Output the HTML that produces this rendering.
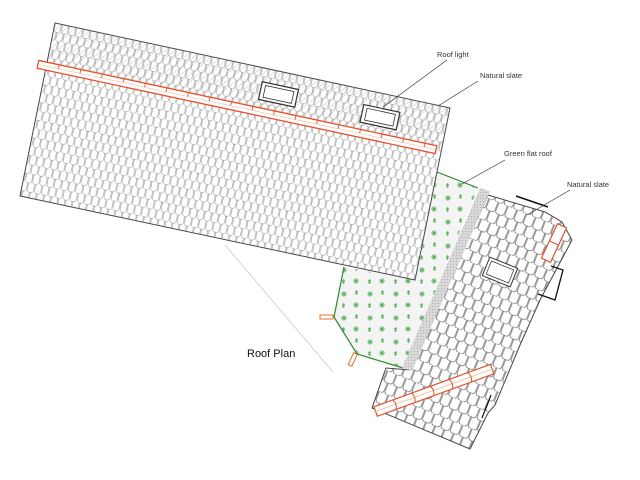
<!DOCTYPE html>
<html><head><meta charset="utf-8"><style>
html,body{margin:0;padding:0;background:#fff;width:640px;height:480px;overflow:hidden}
svg{display:block}
text{font-family:"Liberation Sans",sans-serif;fill:#333}
</style></head><body>
<svg width="640" height="480" viewBox="0 0 640 480">
<defs>
<pattern id="tiles" patternUnits="userSpaceOnUse" width="14.6" height="18" patternTransform="rotate(12.1 55 23) translate(55 23)">
<path d="M0.5,0 v6 q0,3 3,3 q3.3,0 3.3,-3 v-6 M7.8,0 v6 q0,3 3,3 q3.3,0 3.3,-3 v-6 M4.1,9 v6 q0,3 3,3 q3.3,0 3.3,-3 v-6 M-3.2,9 v6 q0,3 3,3 q3.3,0 3.3,-3 v-6 M11.4,9 v6 q0,3 3,3 q3.3,0 3.3,-3 v-6" fill="none" stroke="#777" stroke-width="0.45"/>
</pattern>
<pattern id="hatch" patternUnits="userSpaceOnUse" width="7.3" height="9" patternTransform="rotate(12.1 55 23) translate(55 23)">
<line x1="0" y1="9" x2="7.3" y2="0" stroke="#999" stroke-width="0.4"/>
</pattern>
<pattern id="wtiles" patternUnits="userSpaceOnUse" width="20" height="22" patternTransform="rotate(22 480 195) translate(480 195)">
<path d="M0.5,0 v8 q0,3 3,3 h3 q3,0 3,-3 v-8 M10.5,0 v8 q0,3 3,3 h3 q3,0 3,-3 v-8 M5.5,11 v8 q0,3 3,3 h3 q3,0 3,-3 v-8 M-4.5,11 v8 q0,3 3,3 h3 q3,0 3,-3 v-8 M15.5,11 v8 q0,3 3,3 h3 q3,0 3,-3 v-8" fill="none" stroke="#555" stroke-width="0.6"/>
</pattern>
<pattern id="plants" patternUnits="userSpaceOnUse" width="26" height="24">
<g stroke="#4aa84a" stroke-width="0.7">
<path d="M4,4 l4,4 M8,4 l-4,4 M6,3 v6 M3,6 h6"/>
<path d="M16,15 l4,4 M20,15 l-4,4 M18,14 v6 M15,17 h6"/>
<path d="M17,3 l3,3 M20,3 l-3,3 M18.5,2 v5"/>
<path d="M4,16 l3,3 M7,16 l-3,3 M5.5,15 v5"/>
</g>
</pattern>
<pattern id="grit" patternUnits="userSpaceOnUse" width="3" height="3">
<rect width="3" height="3" fill="#d8d8d8"/><rect width="1" height="1" fill="#b0b0b0"/>
</pattern>
</defs>

<line x1="225" y1="245" x2="333" y2="372" stroke="#ccc" stroke-width="0.8"/>

<!-- green flat roof -->
<polygon points="437,172 478,188 403,368 357,354 334,317 344,267 415,280" fill="#f3f4f3"/>
<polygon points="437,172 478,188 403,368 357,354 334,317 344,267 415,280" fill="url(#plants)"/>
<polyline points="437,172 478,188" fill="none" stroke="#2e8b2e" stroke-width="1.2"/>
<polyline points="403,368 357,354 334,317 344,267" fill="none" stroke="#2e8b2e" stroke-width="1.2"/>
<rect x="320" y="315" width="13" height="4" fill="none" stroke="#e0702a" stroke-width="1"/>
<rect x="351" y="353" width="4" height="13" fill="none" stroke="#e0702a" stroke-width="1" transform="rotate(25 353 359)"/>

<!-- right wing -->
<polygon points="488,195 545,212 562,222 572,240 540,300 520,345 495,405 488,413 470,449 372,408 386,368 410,370" fill="#fff" stroke="#444" stroke-width="1"/>
<polygon points="488,195 545,212 562,222 572,240 540,300 520,345 495,405 488,413 470,449 372,408 386,368 410,370" fill="url(#wtiles)"/>
<polygon points="480,188 490,191 412,371 402,368" fill="url(#grit)"/>
<g transform="rotate(22 500 272)"><rect x="485" y="262" width="30" height="20" fill="#fff" stroke="#333" stroke-width="1"/><rect x="488" y="265" width="24" height="14" fill="#fff" stroke="#333" stroke-width="0.7"/></g>
<g transform="rotate(-20 432 391)">
<rect x="372" y="386" width="124" height="10" fill="#fff" stroke="#e0522a" stroke-width="1.2"/>
<line x1="372" y1="391" x2="496" y2="391" stroke="#f0c8b0" stroke-width="1"/>
<path d="M392,386 q3,5 0,10 M412,386 q3,5 0,10 M432,386 q3,5 0,10 M452,386 q3,5 0,10 M472,386 q3,5 0,10" fill="none" stroke="#e0522a" stroke-width="1"/>
</g>
<g transform="rotate(25 554 243)"><rect x="549" y="224" width="10" height="38" fill="#fff" stroke="#e0522a" stroke-width="1.2"/><line x1="549" y1="243" x2="559" y2="243" stroke="#e0522a"/></g>
<polyline points="516,196 548,207" fill="none" stroke="#111" stroke-width="1.5"/>
<polyline points="551,266 563,270 555,300 538,294" fill="none" stroke="#111" stroke-width="1.3"/>
<polyline points="491,395 482,418" fill="none" stroke="#111" stroke-width="1.2"/>

<!-- main roof -->
<polygon points="55,23 450,108 415,280 20,196" fill="#fff" stroke="#444" stroke-width="1"/>
<polygon points="55,23 450,108 415,280 20,196" fill="url(#tiles)"/>
<polygon points="55,23 450,108 442,147 47,62" fill="url(#hatch)"/>
<g transform="rotate(12.1 55 23)">
<rect x="47" y="63" width="407" height="8" fill="#fff" stroke="#e8502a" stroke-width="1.3"/>
<line x1="47" y1="67" x2="454" y2="67" stroke="#f3c9b5" stroke-width="0.8"/>
<g stroke="#e8502a" stroke-width="0.9">
<line x1="68" y1="63" x2="68" y2="67"/><line x1="90" y1="63" x2="90" y2="67"/><line x1="112" y1="63" x2="112" y2="67"/><line x1="134" y1="63" x2="134" y2="67"/><line x1="156" y1="63" x2="156" y2="67"/><line x1="178" y1="63" x2="178" y2="67"/><line x1="200" y1="63" x2="200" y2="67"/><line x1="222" y1="63" x2="222" y2="67"/><line x1="244" y1="63" x2="244" y2="67"/><line x1="266" y1="63" x2="266" y2="67"/><line x1="288" y1="63" x2="288" y2="67"/><line x1="310" y1="63" x2="310" y2="67"/><line x1="332" y1="63" x2="332" y2="67"/><line x1="354" y1="63" x2="354" y2="67"/><line x1="376" y1="63" x2="376" y2="67"/><line x1="398" y1="63" x2="398" y2="67"/><line x1="420" y1="63" x2="420" y2="67"/><line x1="442" y1="63" x2="442" y2="67"/>
</g>
<rect x="270" y="37" width="37" height="18" fill="#fff" stroke="#333" stroke-width="1.2"/>
<rect x="274" y="40" width="29" height="12" fill="#fff" stroke="#333" stroke-width="0.8"/>
<rect x="374" y="38" width="37" height="18" fill="#fff" stroke="#333" stroke-width="1.2"/>
<rect x="378" y="41" width="29" height="12" fill="#fff" stroke="#333" stroke-width="0.8"/>
</g>

<g stroke="#333" stroke-width="0.7">
<line x1="447" y1="60" x2="383" y2="107"/>
<line x1="478" y1="81" x2="438" y2="106"/>
<line x1="505" y1="160" x2="462" y2="184"/>
<line x1="570" y1="190" x2="527" y2="215"/>
</g>
<text x="437" y="57" font-size="7.5">Roof light</text>
<text x="480" y="78" font-size="7.5">Natural slate</text>
<text x="504" y="156" font-size="7.5">Green flat roof</text>
<text x="567" y="187" font-size="7.5">Natural slate</text>
<text x="247" y="357" font-size="11" style="fill:#111">Roof Plan</text>
</svg>
</body></html>
